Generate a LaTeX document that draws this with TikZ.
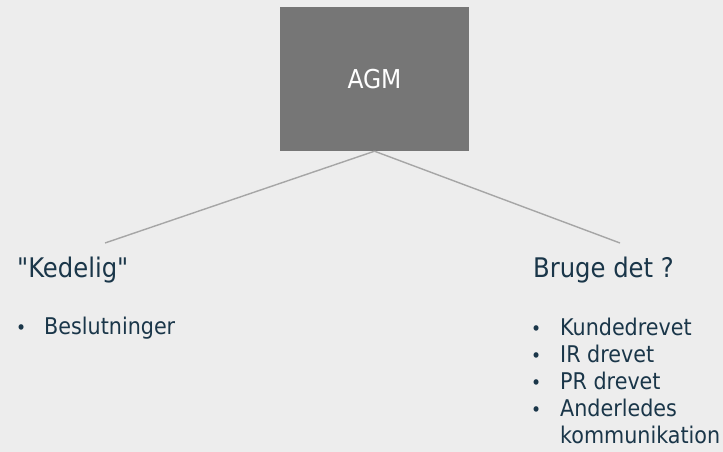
\documentclass[tikz,border=0pt]{standalone}
\usepackage{fontspec}
\setmainfont{DejaVu Sans Condensed}[Ligatures=TeXOff]
\definecolor{pagebg}{HTML}{EDEDED}
\definecolor{boxgray}{HTML}{767676}
\definecolor{linkgray}{HTML}{A6A6A6}
\definecolor{inktext}{HTML}{1A3649}
\tikzset{
  topbox/.style={fill=boxgray, draw=none, minimum width=189pt, minimum height=144pt,
    inner sep=0pt, text=white, font=\fontsize{26}{30}\selectfont},
  link/.style={draw=linkgray, line width=1.4pt},
  heading/.style={anchor=base west, inner sep=0pt, text=inktext, font=\fontsize{27}{32}\selectfont},
  item/.style={anchor=base west, inner sep=0pt, text=inktext, font=\fontsize{23}{27}\selectfont},
  dot/.style={anchor=base west, inner sep=0pt, text=inktext, font=\fontsize{19}{22}\selectfont},
}
\begin{document}
\begin{tikzpicture}[x=1pt, y=-1pt]
  \fill[pagebg] (0,0) rectangle (723,452);
  \useasboundingbox (0,0) rectangle (723,452);

  % central box
  \node[topbox] (agm) at (374.5,79) {AGM};

  % branch ends
  \coordinate (lend) at (105,243);
  \coordinate (rend) at (620,243);
  \draw[link] (agm.south) -- (lend);
  \draw[link] (agm.south) -- (rend);

  % left branch
  \node[heading] (kedelig) at (17,277) {"Kedelig"};
  \node[dot] (lb1) at (16,334) {•};
  \node[item] (beslut) at (44,334) {Beslutninger};

  % right branch
  \node[heading] (bruge) at (533,277) {Bruge det ?};
  \node[dot] (rb1) at (531,335) {•};
  \node[item] (kunde) at (560,335) {Kundedrevet};
  \node[dot] (rb2) at (531,362) {•};
  \node[item] (ir) at (560,362) {IR drevet};
  \node[dot] (rb3) at (531,389) {•};
  \node[item] (pr) at (560,389) {PR drevet};
  \node[dot] (rb4) at (531,416) {•};
  \node[item] (ander) at (560,416) {Anderledes};
  \node[item] (komm) at (560,443) {kommunikation};
\end{tikzpicture}
\end{document}
